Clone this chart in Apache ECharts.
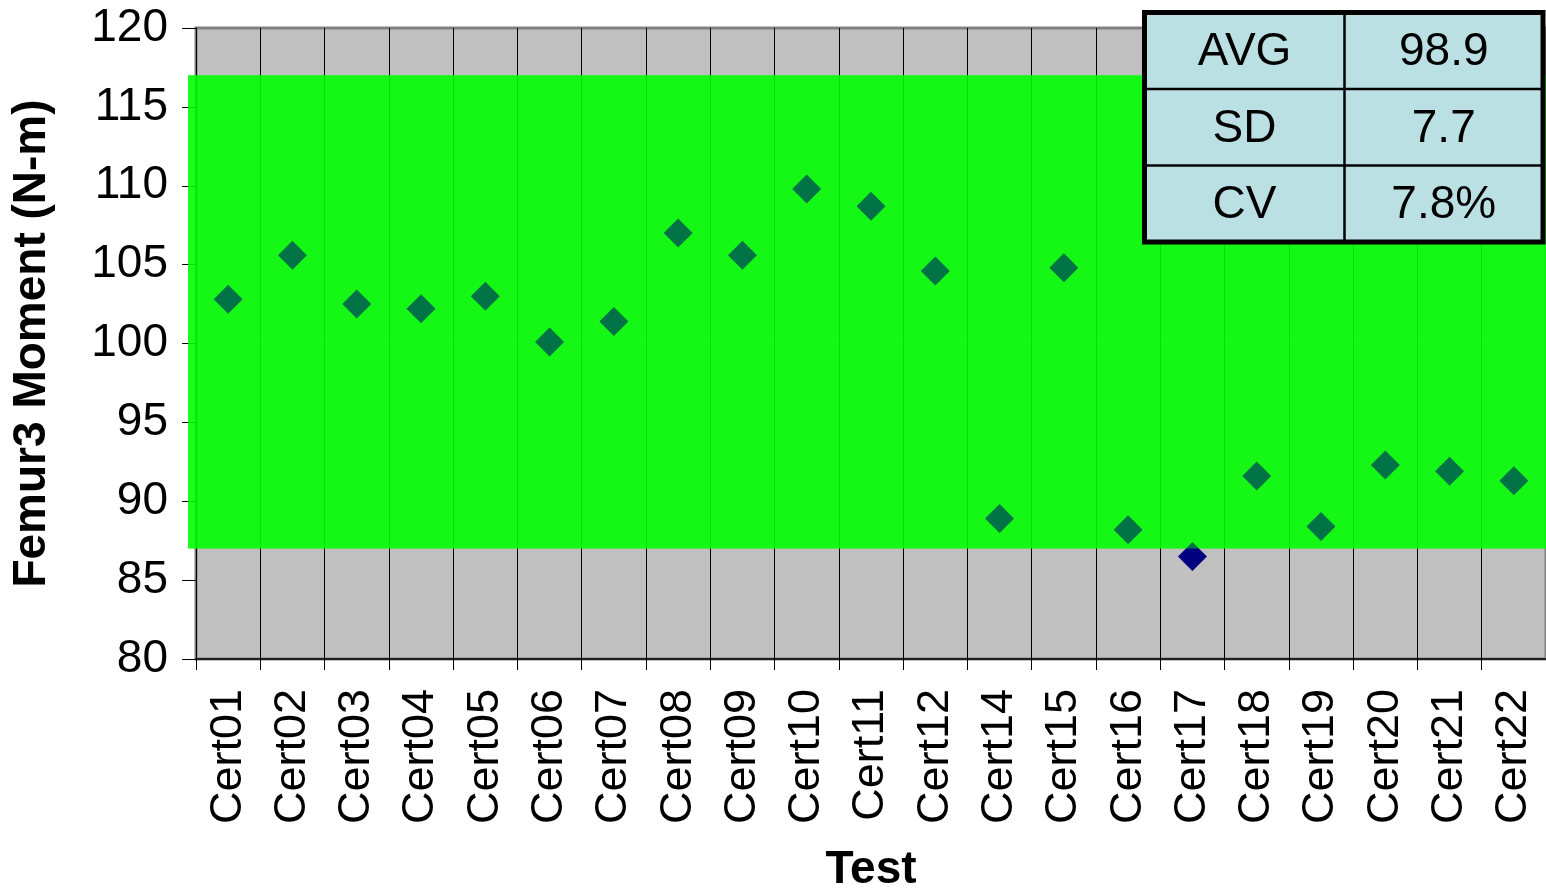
<!DOCTYPE html>
<html>
<head>
<meta charset="utf-8">
<script src="https://cdn.jsdelivr.net/npm/echarts@6/dist/echarts.min.js"></script>
<style>html,body{margin:0;padding:0;background:#fff}#c{width:1546px;height:891px}</style>
</head>
<body>
<div id="c"></div>
<script>
const categories = ['Cert01','Cert02','Cert03','Cert04','Cert05','Cert06','Cert07','Cert08','Cert09','Cert10','Cert11','Cert12','Cert14','Cert15','Cert16','Cert17','Cert18','Cert19','Cert20','Cert21','Cert22'];
const moments = [102.8,105.6,102.5,102.2,103.0,100.1,101.4,107.0,105.6,109.8,108.7,104.6,88.9,104.8,88.2,86.5,91.6,88.4,92.3,91.9,91.3];
const band = [87, 117];
const statLabels = ['AVG','SD','CV'];
const statValues = ['98.9','7.7','7.8%'];
const yTicks = {min: 80, max: 120, interval: 5};

const FONT = '"Liberation Sans", Arial, sans-serif';
const chart = echarts.init(document.getElementById('c'), null, {renderer: 'canvas'});

function bandRender(opacity) {
  return function (params, api) {
    const cs = params.coordSys;
    const yTop = api.coord([0, band[1]])[1];
    const yBot = api.coord([0, band[0]])[1];
    return {
      type: 'rect',
      shape: {x: cs.x - 8, y: yTop, width: cs.width + 8, height: yBot - yTop},
      style: {fill: '#00ff00', opacity: opacity}
    };
  };
}

// table graphic
const tbl = {x0: 1144.5, x1: 1543, y0: 12.5, y1: 242, colX: 1344.5};
const rowH = (tbl.y1 - tbl.y0) / 3;
const graphics = [];
graphics.push({type: 'rect', z: 100, shape: {x: tbl.x0, y: tbl.y0, width: tbl.x1 - tbl.x0, height: tbl.y1 - tbl.y0},
  style: {fill: '#bbe0e3', stroke: '#000', lineWidth: 5}});
graphics.push({type: 'line', z: 101, shape: {x1: tbl.colX, y1: tbl.y0, x2: tbl.colX, y2: tbl.y1}, style: {stroke: '#000', lineWidth: 2.5}});
for (let i = 1; i < 3; i++) {
  const y = tbl.y0 + rowH * i;
  graphics.push({type: 'line', z: 101, shape: {x1: tbl.x0, y1: y, x2: tbl.x1, y2: y}, style: {stroke: '#000', lineWidth: 2.5}});
}
for (let i = 0; i < 3; i++) {
  const cy = tbl.y0 + rowH * (i + 0.5);
  graphics.push({type: 'text', z: 102, x: (tbl.x0 + tbl.colX) / 2, y: cy + 2,
    style: {text: statLabels[i], font: '46px ' + FONT, fill: '#000', textAlign: 'center', textVerticalAlign: 'middle'}});
  graphics.push({type: 'text', z: 102, x: (tbl.colX + tbl.x1) / 2, y: cy + 2,
    style: {text: statValues[i], font: '46px ' + FONT, fill: '#000', textAlign: 'center', textVerticalAlign: 'middle'}});
}

chart.setOption({
  animation: false,
  backgroundColor: '#ffffff',
  grid: {left: 196, right: 0, top: 28, bottom: 232, outerBoundsMode: 'none', containLabel: false,
    show: true, backgroundColor: '#c0c0c0', borderColor: '#808080', borderWidth: 3},
  xAxis: {
    type: 'category', data: categories, boundaryGap: true,
    name: 'Test', nameLocation: 'middle', nameGap: 188,
    nameTextStyle: {fontFamily: FONT, fontSize: 46, fontWeight: 'bold', color: '#000'},
    axisLine: {show: true, lineStyle: {color: '#000', width: 1.5}},
    axisTick: {show: true, length: 11, lineStyle: {color: '#000', width: 1}},
    axisLabel: {rotate: 90, margin: 30, fontFamily: FONT, fontSize: 45, color: '#000', interval: 0},
    splitLine: {show: true, interval: 0, lineStyle: {color: '#000', width: 1}}
  },
  yAxis: {
    type: 'value', min: yTicks.min, max: yTicks.max, interval: yTicks.interval,
    name: 'Femur3 Moment (N-m)', nameLocation: 'middle', nameGap: 141,
    nameTextStyle: {fontFamily: FONT, fontSize: 46, fontWeight: 'bold', color: '#000'},
    axisLine: {show: true, lineStyle: {color: '#000', width: 1}},
    axisTick: {show: true, length: 14, lineStyle: {color: '#000', width: 1}},
    axisLabel: {margin: 28, fontFamily: FONT, fontSize: 46, color: '#000'},
    splitLine: {show: false}
  },
  series: [
    {type: 'custom', z: 1, silent: true, data: [0], renderItem: bandRender(0.8), clip: false},
    {type: 'scatter', z: 2, data: moments, symbol: 'diamond', symbolSize: 29,
      itemStyle: {color: '#000080', opacity: 1}},
    {type: 'custom', z: 3, silent: true, data: [0], renderItem: bandRender(0.45), clip: false}
  ],
  graphic: graphics
});
</script>
</body>
</html>
